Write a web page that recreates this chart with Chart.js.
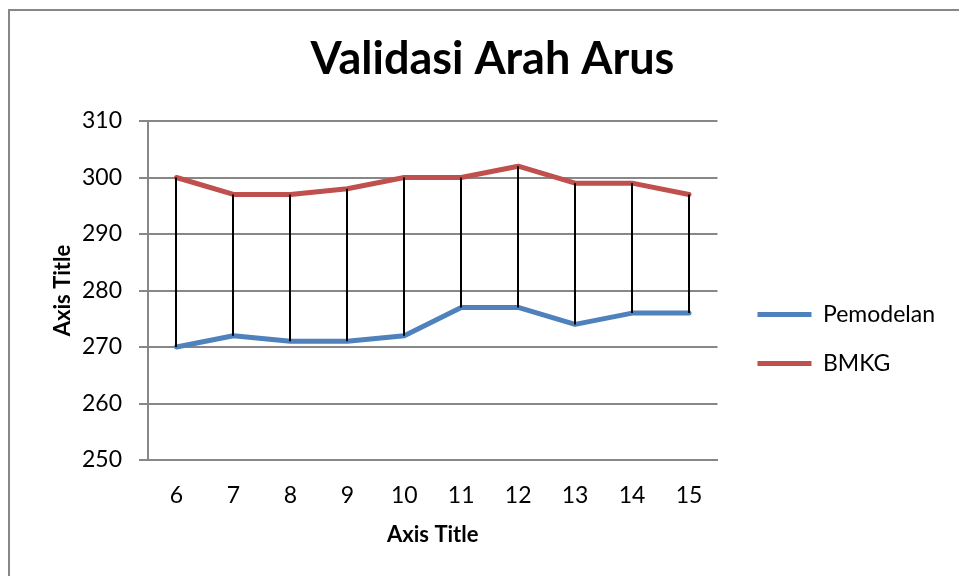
<!DOCTYPE html>
<html>
<head>
<meta charset="utf-8">
<title>Validasi Arah Arus</title>
<script src="https://cdn.jsdelivr.net/npm/chart.js@4/dist/chart.umd.min.js"></script>
<style>
  html, body { margin: 0; padding: 0; background: #fff; overflow: hidden; }
  #wrap { position: relative; width: 959px; height: 576px; }
  #frame {
    position: absolute; left: 8px; top: 9px; width: 1200px; height: 800px;
    border-left: 2px solid #878787; border-top: 2px solid #878787;
  }
  #chart-arus { position: absolute; left: 0; top: 0; }
</style>
</head>
<body>
<div id="wrap">
  <div id="frame"></div>
  <canvas id="chart-arus" width="959" height="576"></canvas>
</div>
<script>
const jam = ['6', '7', '8', '9', '10', '11', '12', '13', '14', '15'];
const pemodelan = [270, 272, 271, 271, 272, 277, 277, 274, 276, 276];
const bmkg = [300, 297, 297, 298, 300, 300, 302, 299, 299, 297];
const yTicks = [250, 260, 270, 280, 290, 300, 310];

const FONT = 'Lato, "Liberation Sans", sans-serif';
const GRID_GRAY = '#878787';

// vertical connector between the two series at every category
const hiLoLines = {
  id: 'hiLoLines',
  afterDatasetsDraw(chart) {
    const { ctx, scales: { x, y } } = chart;
    ctx.save();
    ctx.strokeStyle = '#000';
    ctx.lineWidth = 2;
    ctx.beginPath();
    jam.forEach((_, i) => {
      const px = Math.round(x.getPixelForValue(i));
      ctx.moveTo(px, y.getPixelForValue(bmkg[i]));
      ctx.lineTo(px, y.getPixelForValue(pemodelan[i]));
    });
    ctx.stroke();
    ctx.restore();
  },
};

new Chart(document.getElementById('chart-arus'), {
  type: 'line',
  data: {
    labels: jam,
    datasets: [
      {
        label: 'Pemodelan',
        data: pemodelan,
        borderColor: '#4F81BD',
        backgroundColor: '#4F81BD',
        borderWidth: 5,
        borderCapStyle: 'round',
        borderJoinStyle: 'round',
        pointRadius: 0,
        tension: 0,
      },
      {
        label: 'BMKG',
        data: bmkg,
        borderColor: '#C0504D',
        backgroundColor: '#C0504D',
        borderWidth: 5,
        borderCapStyle: 'round',
        borderJoinStyle: 'round',
        pointRadius: 0,
        tension: 0,
      },
    ],
  },
  options: {
    responsive: false,
    devicePixelRatio: 1,
    animation: false,
    layout: { padding: { top: 0, right: 14, bottom: 22, left: 40 } },
    plugins: {
      title: {
        display: true,
        text: 'Validasi Arah Arus',
        color: '#000',
        font: { family: FONT, size: 45, weight: 'bold' },
        padding: { top: 32, bottom: 35 },
      },
      legend: {
        position: 'right',
        maxWidth: 400,
        // blank title block pushes the entries down beside the plot
        title: { display: true, text: '', font: { size: 20 }, padding: 50 },
        labels: {
          color: '#000',
          font: { family: FONT, size: 23 },
          usePointStyle: true,
          pointStyle: 'line',
          pointStyleWidth: 54,
          padding: 26,
        },
      },
      tooltip: { enabled: false },
    },
    scales: {
      x: {
        offset: true,
        grid: { display: false, drawTicks: false },
        border: { display: true, color: GRID_GRAY, width: 2 },
        ticks: { color: '#000', font: { family: FONT, size: 23 }, padding: 22 },
        title: {
          display: true,
          text: 'Axis Title',
          color: '#000',
          font: { family: FONT, size: 22, weight: 'bold' },
          padding: { top: 6, bottom: 6 },
        },
        afterFit: s => { s.height = 94; },
      },
      y: {
        min: 250,
        max: 310,
        afterBuildTicks: s => { s.ticks = yTicks.map(v => ({ value: v })); },
        grid: { color: GRID_GRAY, lineWidth: 2, tickLength: 9 },
        border: { display: true, color: GRID_GRAY, width: 2 },
        ticks: { color: '#000', font: { family: FONT, size: 23 }, padding: 17 },
        title: {
          display: true,
          text: 'Axis Title',
          color: '#000',
          font: { family: FONT, size: 22, weight: 'bold' },
          padding: { top: 10, bottom: 10 },
        },
        afterFit: s => { s.width = 108; },
      },
      // empty strip that keeps the legend clear of the plot
      gap: {
        position: 'right',
        display: true,
        grid: { display: false, drawTicks: false },
        border: { display: false },
        ticks: { display: false },
        afterFit: s => { s.width = 14; },
      },
    },
  },
  plugins: [hiLoLines],
});
</script>
</body>
</html>
